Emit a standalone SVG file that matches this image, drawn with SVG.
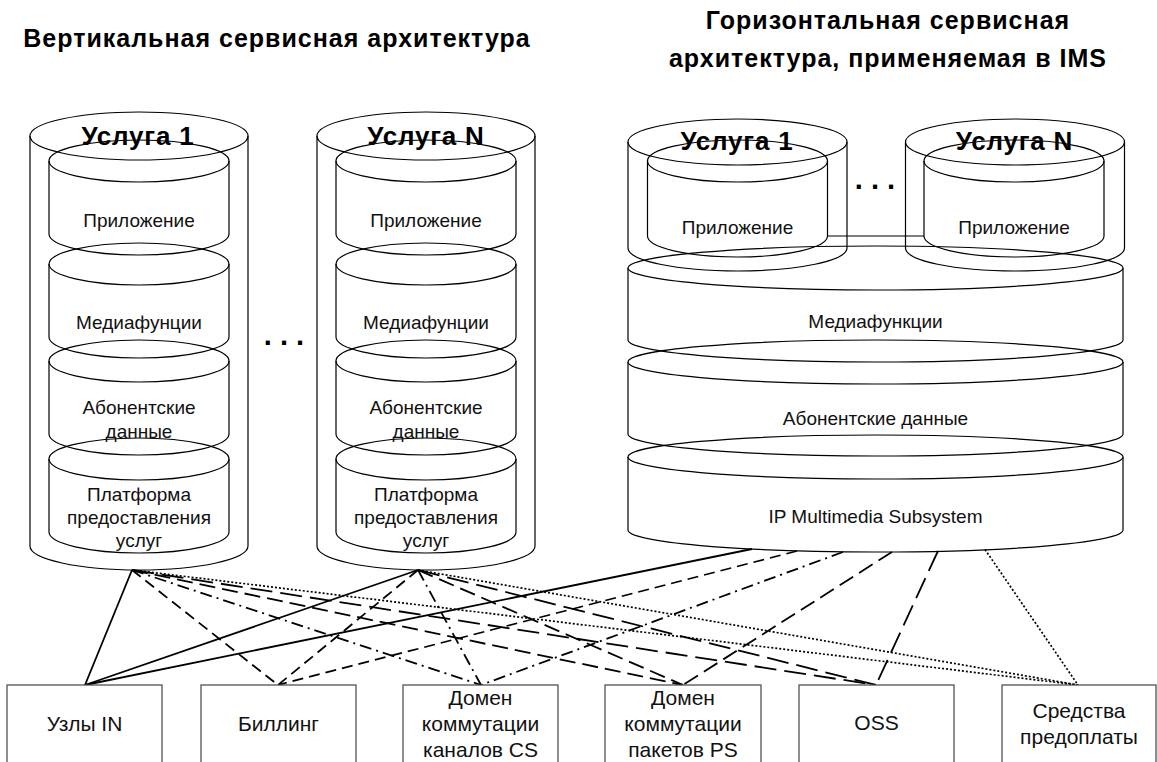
<svg xmlns="http://www.w3.org/2000/svg" width="1157" height="762" viewBox="0 0 1157 762">
<style>
.cyl{fill:none;stroke:#000;stroke-width:1.2}
.box{fill:#fff;stroke:#444;stroke-width:1.2}
.t{font-family:"Liberation Sans",Arial,sans-serif;font-size:19px;fill:#111;text-anchor:middle}
.b{font-family:"Liberation Sans",Arial,sans-serif;font-size:21px;fill:#111;text-anchor:middle}
.h{font-family:"Liberation Sans",Arial,sans-serif;font-size:25px;font-weight:bold;fill:#000;text-anchor:middle;letter-spacing:1px}
.s{font-family:"Liberation Sans",Arial,sans-serif;font-size:26px;font-weight:bold;fill:#000;text-anchor:middle;letter-spacing:0.8px}
.d{font-family:"Liberation Sans",Arial,sans-serif;font-size:29px;font-weight:bold;fill:#000;text-anchor:middle}
.c{fill:none;stroke:#000;stroke-width:1.8}
.dash{stroke-dasharray:11 6}
.dashdot{stroke-dasharray:12 5 2 5}
.long{stroke-dasharray:16 7}
.longer{stroke-dasharray:22 8}
.dot{stroke-dasharray:2 2;stroke-width:1.7}
</style>

<text class="h" x="277" y="47">Вертикальная сервисная архитектура</text>
<text class="h" x="888" y="29">Горизонтальная сервисная</text>
<text class="h" x="888" y="67">архитектура, применяемая в IMS</text>

<g id="vertical-service-1">
  <ellipse class="cyl" cx="139" cy="136" rx="109" ry="24"/>
  <path class="cyl" d="M30,136 V546 A109,24 0 0 0 248,546 V136"/>
  <ellipse class="cyl" cx="139" cy="161" rx="90" ry="21"/>
  <path class="cyl" d="M49,161 V234 A90,21 0 0 0 229,234 V161"/>
  <ellipse class="cyl" cx="139" cy="264" rx="90" ry="21"/>
  <path class="cyl" d="M49,264 V337 A90,21 0 0 0 229,337 V264"/>
  <ellipse class="cyl" cx="139" cy="361" rx="90" ry="21"/>
  <path class="cyl" d="M49,361 V434 A90,21 0 0 0 229,434 V361"/>
  <ellipse class="cyl" cx="139" cy="459" rx="90" ry="21"/>
  <path class="cyl" d="M49,459 V532 A90,21 0 0 0 229,532 V459"/>
  <text class="s" x="138" y="145">Услуга 1</text>
  <text class="t" x="139" y="227">Приложение</text>
  <text class="t" x="139" y="329">Медиафунции</text>
  <text class="t" x="139" y="414">Абонентские</text>
  <text class="t" x="139" y="438">данные</text>
  <text class="t" x="139" y="501">Платформа</text>
  <text class="t" x="139" y="524">предоставления</text>
  <text class="t" x="139" y="547">услуг</text>
</g>

<g id="vertical-service-n">
  <ellipse class="cyl" cx="426" cy="136" rx="109" ry="24"/>
  <path class="cyl" d="M317,136 V546 A109,24 0 0 0 535,546 V136"/>
  <ellipse class="cyl" cx="426" cy="161" rx="90" ry="21"/>
  <path class="cyl" d="M336,161 V234 A90,21 0 0 0 516,234 V161"/>
  <ellipse class="cyl" cx="426" cy="264" rx="90" ry="21"/>
  <path class="cyl" d="M336,264 V337 A90,21 0 0 0 516,337 V264"/>
  <ellipse class="cyl" cx="426" cy="361" rx="90" ry="21"/>
  <path class="cyl" d="M336,361 V434 A90,21 0 0 0 516,434 V361"/>
  <ellipse class="cyl" cx="426" cy="459" rx="90" ry="21"/>
  <path class="cyl" d="M336,459 V532 A90,21 0 0 0 516,532 V459"/>
  <text class="s" x="426" y="145">Услуга N</text>
  <text class="t" x="426" y="227">Приложение</text>
  <text class="t" x="426" y="329">Медиафунции</text>
  <text class="t" x="426" y="414">Абонентские</text>
  <text class="t" x="426" y="438">данные</text>
  <text class="t" x="426" y="501">Платформа</text>
  <text class="t" x="426" y="524">предоставления</text>
  <text class="t" x="426" y="547">услуг</text>
</g>

<text id="dots-left" class="d" x="284" y="345">. . .</text>

<g id="horizontal-base">
  <ellipse class="cyl" cx="875.5" cy="268" rx="247.5" ry="22"/>
  <path class="cyl" d="M628,268 V340 A247.5,22 0 0 0 1123,340 V268"/>
  <ellipse class="cyl" cx="875.5" cy="362" rx="247.5" ry="22"/>
  <path class="cyl" d="M628,362 V434 A247.5,22 0 0 0 1123,434 V362"/>
  <ellipse class="cyl" cx="875.5" cy="457" rx="247.5" ry="22"/>
  <path class="cyl" d="M628,457 V530 A247.5,22 0 0 0 1123,530 V457"/>
  <text class="t" x="875.5" y="328">Медиафункции</text>
  <text class="t" x="875.5" y="425">Абонентские данные</text>
  <text class="t" x="875.5" y="523">IP Multimedia Subsystem</text>
</g>

<g id="horizontal-service-1">
  <ellipse class="cyl" cx="737.5" cy="142" rx="109.5" ry="23"/>
  <path class="cyl" d="M628,142 V248 A109.5,23 0 0 0 847,248 V142"/>
  <ellipse class="cyl" cx="737.5" cy="161" rx="90" ry="21"/>
  <path class="cyl" d="M647.5,161 V236 A90,21 0 0 0 827.5,236 V161"/>
  <text class="s" x="737" y="150">Услуга 1</text>
  <text class="t" x="737.5" y="234">Приложение</text>
</g>

<g id="horizontal-service-n">
  <ellipse class="cyl" cx="1015" cy="142" rx="109.5" ry="23"/>
  <path class="cyl" d="M905.5,142 V248 A109.5,23 0 0 0 1124.5,248 V142"/>
  <ellipse class="cyl" cx="1014" cy="161" rx="90" ry="21"/>
  <path class="cyl" d="M924,161 V236 A90,21 0 0 0 1104,236 V161"/>
  <text class="s" x="1014.5" y="150">Услуга N</text>
  <text class="t" x="1014" y="234">Приложение</text>
</g>

<text id="dots-right" class="d" x="875" y="189">. . .</text>

<g id="connectors">
  <path class="cyl" d="M827.5,236 H924"/>
  <path class="c" d="M132,570 L85,685"/>
  <path class="c dash" d="M132,570 L278,685"/>
  <path class="c dashdot" d="M132,570 L481,685"/>
  <path class="c long" d="M132,570 L683,685"/>
  <path class="c longer" d="M132,570 L876,685"/>
  <path class="c dot" d="M132,570 L1078,685"/>
  <path class="c" d="M418,570 L85,685"/>
  <path class="c dash" d="M418,570 L278,685"/>
  <path class="c dashdot" d="M418,570 L481,685"/>
  <path class="c long" d="M418,570 L683,685"/>
  <path class="c longer" d="M418,570 L876,685"/>
  <path class="c dot" d="M418,570 L1078,685"/>
  <path class="c" d="M752,549 L85,685"/>
  <path class="c dash" d="M797,551 L278,685"/>
  <path class="c dashdot" d="M843,552 L481,685"/>
  <path class="c long" d="M892,552 L683,685"/>
  <path class="c longer" d="M938,551 L876,685"/>
  <path class="c dot" d="M985,549.5 L1078,685"/>
</g>

<g id="node-in">
  <rect class="box" x="7" y="685" width="155" height="82"/>
  <text class="b" x="84.5" y="730.5">Узлы IN</text>
</g>
<g id="node-billing">
  <rect class="box" x="201" y="685" width="155" height="82"/>
  <text class="b" x="278.5" y="730.5">Биллинг</text>
</g>
<g id="node-cs">
  <rect class="box" x="403" y="685" width="155" height="82"/>
  <text class="b" x="480.5" y="704.5">Домен</text>
  <text class="b" x="480.5" y="730.5">коммутации</text>
  <text class="b" x="480.5" y="756.5">каналов CS</text>
</g>
<g id="node-ps">
  <rect class="box" x="605" y="685" width="156" height="82"/>
  <text class="b" x="683" y="704.5">Домен</text>
  <text class="b" x="683" y="730.5">коммутации</text>
  <text class="b" x="683" y="756.5">пакетов PS</text>
</g>
<g id="node-oss">
  <rect class="box" x="799" y="685" width="155" height="82"/>
  <text class="b" x="876.5" y="730">OSS</text>
</g>
<g id="node-prepaid">
  <rect class="box" x="1002" y="685" width="154" height="82"/>
  <text class="b" x="1079" y="717.5">Средства</text>
  <text class="b" x="1079" y="744">предоплаты</text>
</g>
</svg>
